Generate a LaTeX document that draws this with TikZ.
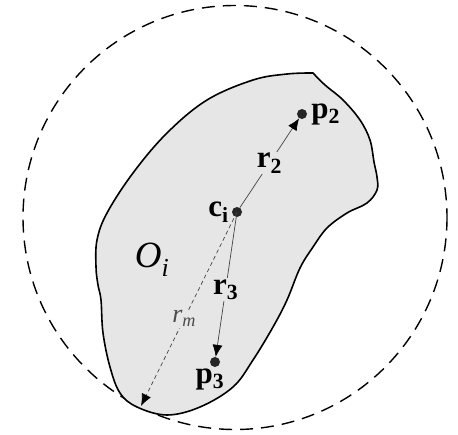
\documentclass[tikz,border=0pt]{standalone}
\usepackage{fontspec}
\setmainfont{Liberation Serif}
\usetikzlibrary{arrows.meta}
\definecolor{BlobGray}{HTML}{E6E6E6}
\definecolor{LineGray}{HTML}{444444}

\begin{document}
\begin{tikzpicture}[x=1pt, y=-1pt,
  pnt/.style={circle, fill=black!85, inner sep=0pt, minimum size=10pt},
  lbl/.style={font=\fontsize{31}{34}\selectfont\bfseries, text=black, inner sep=1pt},
  vec/.style={-{Latex[length=12pt,width=10pt,color=black]}, line width=0.7pt, color=LineGray},
  radius/.style={-{Latex[length=12pt,width=10pt,color=black]}, line width=0.7pt, color=LineGray, dash pattern=on 4pt off 3pt}
]
  \useasboundingbox (0,0) rectangle (458,434);

  % bounding circle
  \draw[dash pattern=on 13pt off 8pt, line width=1.4pt] (235,217.5) circle (212);

  % object outline
  \draw[fill=BlobGray, line width=1.6pt] (313,73)
    plot[smooth, tension=0.6] coordinates {(313,73) (325,85) (343,100) (360,120) (370,140) (374,162)
      (377,177) (377,190) (367,203) (347,213) (327,228) (313,247) (300,268) (287,300) (273,327)
      (253,360) (233,387) (200,407) (167,415) (137,407) (120,393) (110,367) (103,333) (101,300)
      (98,285) (96,267) (97,240) (107,213) (133,173) (167,133) (207,100) (253,80) (287,74) (313,73)}
    -- cycle;

  % Nodes
  \node[pnt] (ci) at (237,212) {};
  \node[pnt] (p2) at (302,114) {};
  \node[pnt] (p3) at (215,362) {};
  \coordinate (rmend) at (141,406);
  \node[lbl, left=2pt] (cilbl) at (ci.west) {c\textsubscript{i}};
  \node[lbl, right=3pt] (p2lbl) at (p2.east) {p\textsubscript{2}};
  \node[lbl, below=0pt, xshift=-5pt] (p3lbl) at (p3.south) {p\textsubscript{3}};
  \node[font=\fontsize{37}{40}\selectfont\itshape] (olbl) at (152,260) {O\textsubscript{i}};

  % Connections
  \draw[vec] (ci) -- node[lbl, fill=BlobGray] (r2lbl) {r\textsubscript{2}} (p2);
  \draw[vec] (ci) -- node[lbl, fill=BlobGray, pos=0.52] (r3lbl) {r\textsubscript{3}} (p3);
  \draw[radius] (ci.center) -- node[fill=BlobGray, pos=0.55, inner sep=1pt, text=black!70,
    font=\fontsize{26}{28}\selectfont\itshape] (rmlbl) {r\textsubscript{m}} (rmend);
\end{tikzpicture}
\end{document}
